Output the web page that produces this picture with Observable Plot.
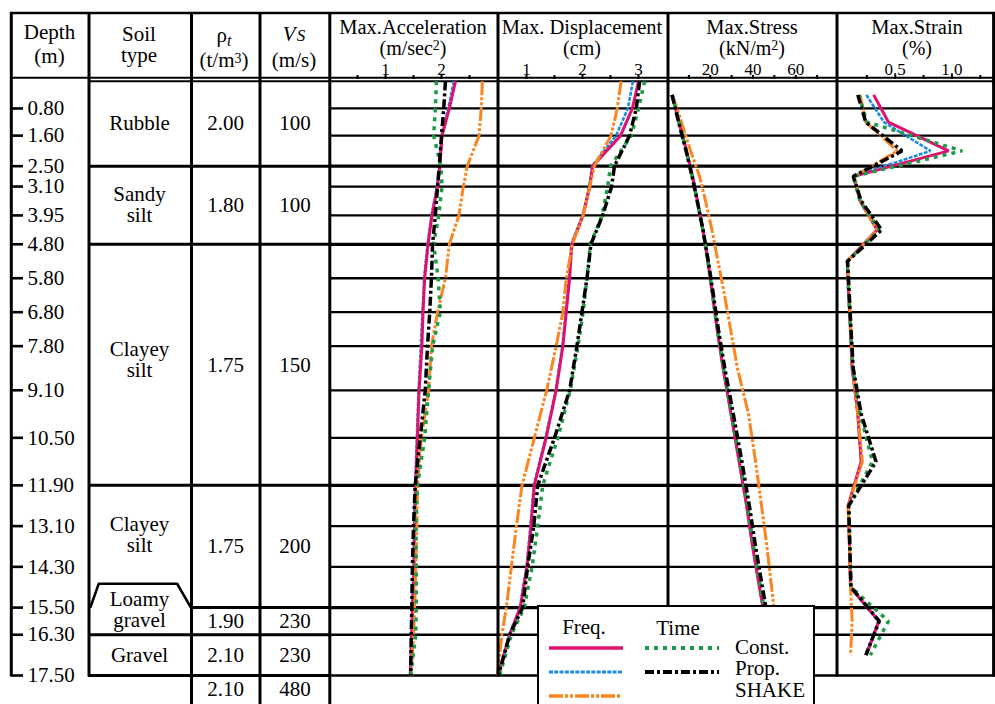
<!DOCTYPE html>
<html><head><meta charset="utf-8">
<script src="https://cdn.jsdelivr.net/npm/d3@7"></script>
<script src="https://cdn.jsdelivr.net/npm/@observablehq/plot@0.6"></script>
<style>
body{margin:0;background:#fff;}
#fig{position:relative;width:995px;height:704px;overflow:hidden;font-family:'Liberation Serif','LiberationSerif','Tinos','DejaVu Serif',serif;color:#000;background:#fff;}
#fig svg, #fig text{font-family:'Liberation Serif','LiberationSerif','Tinos','DejaVu Serif',serif;}
.col{position:absolute;top:0;}
#overlay{position:absolute;left:0;top:0;pointer-events:none;}
#legend{position:absolute;left:537px;top:605px;width:274px;height:120px;border:2px solid #000;background:#fff;}
</style></head><body><div id="fig"></div>
<script>
// ---------------- data ----------------
const depthTicks = [0.8, 1.6, 2.5, 3.1, 3.95, 4.8, 5.8, 6.8, 7.8, 9.1, 10.5, 11.9, 13.1, 14.3, 15.5, 16.3, 17.5];
const thickDepths = [2.5, 4.8, 11.9, 15.5];

// layer table
const rowTop    = [0, 2.5, 4.8, 11.9, 15.5, 16.3, 17.5];
const rowBottom = [2.5, 4.8, 11.9, 15.5, 16.3, 17.5, 18.3];
const densities = ["2.00", "1.80", "1.75", "1.75", "1.90", "2.10", "2.10"];
const shearVel  = ["100", "100", "150", "200", "230", "230", "480"];
const rowRules  = [2.5, 4.8, 11.9, 15.5, 16.3, 17.5];

const soilTypes  = ["Rubble", "Sandy\nsilt", "Clayey\nsilt", "Clayey\nsilt", "Loamy\ngravel", "Gravel"];
const soilTop    = [0, 2.5, 4.8, 11.9, 14.8, 16.3];
const soilBottom = [2.5, 4.8, 11.6, 14.8, 16.3, 17.5];
const soilRules  = [2.5, 4.8, 11.9, 16.3, 17.5];

// sample depths (m)
const boundaryDepths = [0, 0.8, 1.6, 2.5, 3.1, 3.95, 4.8, 5.8, 6.8, 7.8, 9.1, 10.5, 11.9, 13.1, 14.3, 15.5, 16.3, 17.5];
const midDepths = [0.4, 1.2, 2.05, 2.8, 3.525, 4.375, 5.3, 6.3, 7.3, 8.45, 9.8, 11.2, 12.5, 13.7, 14.9, 15.9, 16.9];

// Max. acceleration (m/sec2) at boundaryDepths
const accFreqConst = [2.25, 2.14, 2.01, 1.97, 1.93, 1.83, 1.76, 1.70, 1.67, 1.65, 1.60, 1.57, 1.54, 1.52, 1.51, 1.48, 1.47, 1.44];
const accFreqProp  = [2.22, 2.12, 2.00, 1.96, 1.92, 1.82, 1.75, 1.69, 1.66, 1.63, 1.59, 1.56, 1.53, 1.51, 1.50, 1.48, 1.46, 1.44];
const accShake     = [2.73, 2.71, 2.67, 2.46, 2.39, 2.31, 2.14, 2.07, 1.93, 1.82, 1.77, 1.64, 1.57, 1.56, 1.54, 1.52, 1.50, 1.46];
const accTimeConst = [1.91, 1.89, 1.86, 1.99, 2.01, 1.95, 1.86, 1.94, 1.98, 1.84, 1.77, 1.70, 1.57, 1.54, 1.55, 1.55, 1.54, 1.45];
const accTimeProp  = [2.07, 2.04, 2.00, 1.96, 1.93, 1.89, 1.84, 1.82, 1.79, 1.75, 1.71, 1.62, 1.53, 1.50, 1.48, 1.47, 1.46, 1.45];

// Max. displacement (cm) at boundaryDepths
const dispFreqConst = [3.00, 2.89, 2.68, 2.18, 2.13, 2.01, 1.81, 1.77, 1.71, 1.65, 1.53, 1.35, 1.14, 1.08, 1.01, 0.89, 0.70, 0.49];
const dispFreqProp  = [2.90, 2.81, 2.60, 2.17, 2.12, 2.00, 1.80, 1.76, 1.70, 1.64, 1.52, 1.34, 1.13, 1.07, 1.00, 0.88, 0.69, 0.49];
const dispShake     = [2.69, 2.62, 2.51, 2.21, 2.13, 2.01, 1.82, 1.71, 1.65, 1.53, 1.36, 1.14, 0.92, 0.82, 0.73, 0.64, 0.56, 0.48];
const dispTimeConst = [3.11, 3.00, 2.87, 2.50, 2.45, 2.35, 2.14, 2.08, 2.01, 1.92, 1.78, 1.56, 1.29, 1.20, 1.10, 0.96, 0.73, 0.52];
const dispTimeProp  = [3.02, 2.96, 2.84, 2.57, 2.52, 2.36, 2.15, 2.08, 1.99, 1.90, 1.77, 1.50, 1.20, 1.13, 1.02, 0.93, 0.70, 0.50];

// Max. stress (kN/m2) at midDepths
const stressFreqConst = [2.2, 5.4, 8.9, 11.7, 14.0, 16.6, 18.9, 21.1, 23.2, 26.0, 29.7, 33.5, 37.0, 39.8, 43.0, 45.8, 48.2];
const stressFreqProp  = [2.2, 5.4, 8.9, 11.7, 14.0, 16.6, 18.9, 21.1, 23.2, 26.0, 29.7, 33.5, 37.0, 39.8, 43.0, 45.8, 48.2];
const stressShake     = [2.3, 6.5, 10.8, 15.0, 17.8, 20.8, 23.6, 26.7, 29.5, 32.7, 37.9, 41.2, 44.0, 46.5, 48.7, 50.5, 52.4];
const stressTimeConst = [2.2, 5.3, 8.8, 11.6, 13.9, 16.5, 18.9, 21.1, 23.3, 26.2, 30.0, 33.9, 37.4, 40.3, 43.5, 46.3, 48.7];
const stressTimeProp  = [2.1, 5.2, 8.7, 11.5, 13.9, 16.6, 19.1, 21.5, 23.8, 26.8, 30.8, 34.8, 38.3, 41.2, 44.4, 47.2, 49.6];

// Max. strain (%) at midDepths
const strainFreqConst = [0.31, 0.44, 0.97, 0.135, 0.19, 0.34, 0.077, 0.09, 0.106, 0.12, 0.17, 0.20, 0.085, 0.097, 0.106, 0.356, 0.245];
const strainFreqProp  = [0.245, 0.40, 0.81, 0.135, 0.19, 0.34, 0.077, 0.09, 0.106, 0.12, 0.17, 0.20, 0.085, 0.097, 0.106, 0.35, 0.24];
const strainShake     = [0.19, 0.24, 0.52, 0.14, 0.19, 0.34, 0.08, 0.095, 0.11, 0.125, 0.17, 0.21, 0.085, 0.097, 0.106, 0.12, 0.106];
const strainTimeConst = [0.18, 0.25, 1.09, 0.13, 0.19, 0.36, 0.077, 0.09, 0.106, 0.125, 0.19, 0.30, 0.09, 0.10, 0.11, 0.44, 0.28];
const strainTimeProp  = [0.17, 0.24, 0.56, 0.13, 0.20, 0.38, 0.08, 0.095, 0.11, 0.13, 0.20, 0.33, 0.09, 0.10, 0.11, 0.36, 0.24];

// ---------------- styles / layout ----------------
const FONT = "'Liberation Serif','LiberationSerif','Tinos','DejaVu Serif',serif";
const Y_RANGE = [80.8, 675];
const styles = {
  "Freq. Const.": {stroke: "#e0106e", strokeWidth: 3, strokeDasharray: null},
  "Freq. Prop.":  {stroke: "#1c8ce0", strokeWidth: 2.6, strokeDasharray: "4,1.3"},
  "Freq. SHAKE":  {stroke: "#fb8520", strokeWidth: 3, strokeDasharray: "14,2,3,2,3,2"},
  "Time Const.":  {stroke: "#1f9a48", strokeWidth: 3.5, strokeDasharray: "4,5"},
  "Time Prop.":   {stroke: "#000000", strokeWidth: 3.5, strokeDasharray: "9,3,3,3"}
};
const drawOrder = ["Freq. Prop.", "Freq. Const.", "Freq. SHAKE", "Time Const.", "Time Prop."];

const panels = [
  {left: 329, width: 169, domain: [0, 3], range: [0, 168], ticks: [0.5, 1, 1.5, 2, 2.5], labels: {1: "1", 2: "2"}, depths: boundaryDepths,
   values: {"Freq. Const.": accFreqConst, "Freq. Prop.": accFreqProp, "Freq. SHAKE": accShake, "Time Const.": accTimeConst, "Time Prop.": accTimeProp}},
  {left: 498, width: 170, domain: [0.5, 3.5], range: [0, 168], ticks: [1, 1.5, 2, 2.5, 3], labels: {1: "1", 2: "2", 3: "3"}, depths: boundaryDepths,
   values: {"Freq. Const.": dispFreqConst, "Freq. Prop.": dispFreqProp, "Freq. SHAKE": dispShake, "Time Const.": dispTimeConst, "Time Prop.": dispTimeProp}},
  {left: 668, width: 169, domain: [0, 80], range: [-1, 170], ticks: [10, 20, 30, 40, 50, 60, 70], labels: {20: "20", 40: "40", 60: "60"}, depths: midDepths,
   values: {"Freq. Const.": stressFreqConst, "Freq. Prop.": stressFreqProp, "Freq. SHAKE": stressShake, "Time Const.": stressTimeConst, "Time Prop.": stressTimeProp}},
  {left: 837, width: 158, domain: [0, 1.375], range: [1, 157], ticks: [0.25, 0.5, 0.75, 1, 1.25], labels: {0.5: "0.5", 1: "1.0"}, depths: midDepths,
   values: {"Freq. Const.": strainFreqConst, "Freq. Prop.": strainFreqProp, "Freq. SHAKE": strainShake, "Time Const.": strainTimeConst, "Time Prop.": strainTimeProp}}
];

const fig = document.getElementById("fig");
function place(svg, left) {
  const d = document.createElement("div");
  d.className = "col";
  d.style.left = left + "px";
  d.appendChild(svg);
  fig.appendChild(d);
}
const baseStyle = {fontFamily: FONT, fontSize: "21px", background: "none", overflow: "visible", color: "#000"};

// ---------- depth column ----------
place(Plot.plot({
  width: 88, height: 704, margin: 0, style: baseStyle,
  x: {domain: [0, 88], range: [0, 88], axis: null},
  y: {domain: [0, 17.5], range: Y_RANGE, axis: null},
  marks: [
    Plot.ruleY(depthTicks, {x1: 11, x2: 23, stroke: "#000", strokeWidth: 2.6}),
    Plot.text(depthTicks, {x: 27, y: d => d, text: d => d.toFixed(2), textAnchor: "start", fontSize: 21, fontFamily: FONT, fill: "#000"})
  ]
}), 0);

// ---------- soil type column ----------
const soilRows = soilTypes.map((name, i) => ({name, mid: (soilTop[i] + soilBottom[i]) / 2}));
const loamyOutline = [
  {x: 0.02, y: 15.48}, {x: 0.10, y: 14.8},
  {x: 0.87, y: 14.8}, {x: 1.0, y: 15.48}
];
place(Plot.plot({
  width: 102, height: 704, margin: 0, style: baseStyle,
  x: {domain: [0, 1], range: [0, 102], axis: null},
  y: {domain: [0, 17.5], range: Y_RANGE, axis: null},
  marks: [
    Plot.ruleY([0], {stroke: "#000", strokeWidth: 2}),
    Plot.ruleY(soilRules, {stroke: "#000", strokeWidth: 3}),
    Plot.line(loamyOutline, {x: "x", y: "y", stroke: "#000", strokeWidth: 2.6, curve: "linear"}),
    Plot.text(soilRows, {y: "mid", text: "name", fontSize: 21, fontFamily: FONT, lineHeight: 1.0, fill: "#000"})
  ]
}), 88);

// ---------- density & Vs columns ----------
const tableRows = rowTop.map((t, i) => ({mid: (t + rowBottom[i]) / 2, rho: densities[i], vs: shearVel[i]}));
function textCol(left, width, key) {
  place(Plot.plot({
    width, height: 704, margin: 0, style: baseStyle,
    x: {domain: [0, 1], range: [0, width], axis: null},
    y: {domain: [0, 17.5], range: Y_RANGE, axis: null},
    marks: [
      Plot.ruleY([0], {stroke: "#000", strokeWidth: 2}),
      Plot.ruleY(rowRules, {stroke: "#000", strokeWidth: 3}),
      Plot.text(tableRows, {y: "mid", text: key, fontSize: 21, fontFamily: FONT, fill: "#000"})
    ]
  }), left);
}
textCol(190, 70, "rho");
textCol(260, 69, "vs");

// ---------- profile panels ----------
for (const p of panels) {
  const thin = depthTicks.filter(d => !thickDepths.includes(d));
  const lines = drawOrder.map(name => {
    const data = p.depths.map((d, i) => ({depth: d, value: p.values[name][i]}));
    const s = styles[name];
    const opts = {x: "value", y: "depth", stroke: s.stroke, strokeWidth: s.strokeWidth, strokeLinecap: "butt", strokeLinejoin: "miter", curve: "linear"};
    if (s.strokeDasharray) opts.strokeDasharray = s.strokeDasharray;
    return Plot.line(data, opts);
  });
  place(Plot.plot({
    width: p.width, height: 704, marginTop: 78, marginBottom: 29, marginLeft: 0, marginRight: 0,
    style: {...baseStyle, fontSize: "17px"},
    x: {domain: p.domain, range: p.range, axis: null, label: null},
    y: {domain: [0, 17.5], range: Y_RANGE, axis: null},
    marks: [
      Plot.ruleY([0], {stroke: "#000", strokeWidth: 2}),
      Plot.ruleY(thin, {stroke: "#000", strokeWidth: 2.3}),
      Plot.ruleY(thickDepths, {stroke: "#000", strokeWidth: 3.2}),
      Plot.axisX({anchor: "top", ticks: p.ticks, tickSize: 4, tickPadding: 0, strokeWidth: 2, label: null,
                  tickFormat: d => p.labels[d] ?? "", fontSize: 17, fontFamily: FONT, fill: "#000"}),
      ...lines
    ]
  }), p.left);
}

// ---------- frame & header ----------
const ov = d3.select(fig).append("svg").attr("id", "overlay").attr("width", 995).attr("height", 704)
  .attr("font-family", FONT).attr("font-size", 21);
const hLines = [[10, 995, 13, 2.6], [10, 995, 77.8, 2]];
for (const [x1, x2, y, w] of hLines) ov.append("line").attr("x1", x1).attr("x2", x2).attr("y1", y).attr("y2", y).attr("stroke", "#000").attr("stroke-width", w);
const vLines = [[11.3, 12, 676.5], [89, 12, 676.5], [191.5, 12, 704], [260, 12, 704], [329.8, 12, 704], [498, 12, 676.5], [668, 12, 676.5], [837, 12, 676.5], [993.6, 12, 676.5]];
for (const [x, y1, y2] of vLines) ov.append("line").attr("x1", x).attr("x2", x).attr("y1", y1).attr("y2", y2).attr("stroke", "#000").attr("stroke-width", 3);

const headerTexts = [
  [49.5, 39, "Depth", 21], [49.5, 63, "(m)", 21],
  [139, 41, "Soil", 21], [139, 62, "type", 21],
  [224, 42, 'ρ<tspan font-style="italic" font-size="16" dy="4">t</tspan>', 21],
  [224, 67, '(t/m<tspan font-size="14" dy="-4">3</tspan><tspan dy="4">)</tspan>', 21],
  [294, 41, '<tspan font-style="italic">V</tspan><tspan font-style="italic" font-size="17" dx="1">S</tspan>', 21],
  [294, 67, "(m/s)", 21],
  [413, 33.5, "Max.Acceleration", 20.5], [413, 54.5, '(m/sec<tspan font-size="14" dy="-5">2</tspan><tspan dy="5">)</tspan>', 20],
  [582, 33.5, "Max. Displacement", 20.5], [582, 54.5, "(cm)", 20],
  [752, 33.5, "Max.Stress", 20.5], [752, 54.5, '(kN/m<tspan font-size="14" dy="-5">2</tspan><tspan dy="5">)</tspan>', 20],
  [917, 33.5, "Max.Strain", 20.5], [917, 54.5, "(%)", 20]
];
for (const [x, y, html, fs] of headerTexts) ov.append("text").attr("x", x).attr("y", y).attr("font-size", fs).attr("text-anchor", "middle").attr("fill", "#000").html(html);

// ---------- legend ----------
const lg = document.createElement("div");
lg.id = "legend";
fig.appendChild(lg);
const ls = d3.select(lg).append("svg").attr("width", 274).attr("height", 120)
  .attr("font-family", FONT).attr("font-size", 21).style("position", "absolute").style("left", "-1px").style("top", "-1px");
ls.append("text").attr("x", 46).attr("y", 28).attr("text-anchor", "middle").text("Freq.");
ls.append("text").attr("x", 140).attr("y", 29).attr("text-anchor", "middle").text("Time");
const legendItems = [
  ["Freq. Const.", 11, 85, 42], ["Freq. Prop.", 11, 85, 66], ["Freq. SHAKE", 11, 84, 90],
  ["Time Const.", 107, 181, 42], ["Time Prop.", 107, 181, 66]
];
for (const [name, x1, x2, y] of legendItems) {
  const s = styles[name];
  const l = ls.append("line").attr("x1", x1).attr("x2", x2).attr("y1", y).attr("y2", y)
    .attr("stroke", s.stroke).attr("stroke-width", s.strokeWidth + 0.5);
  if (s.strokeDasharray) l.attr("stroke-dasharray", s.strokeDasharray);
}
ls.append("text").attr("x", 197).attr("y", 48).text("Const.");
ls.append("text").attr("x", 197).attr("y", 69).text("Prop.");
ls.append("text").attr("x", 197).attr("y", 91).text("SHAKE");
</script></body></html>
